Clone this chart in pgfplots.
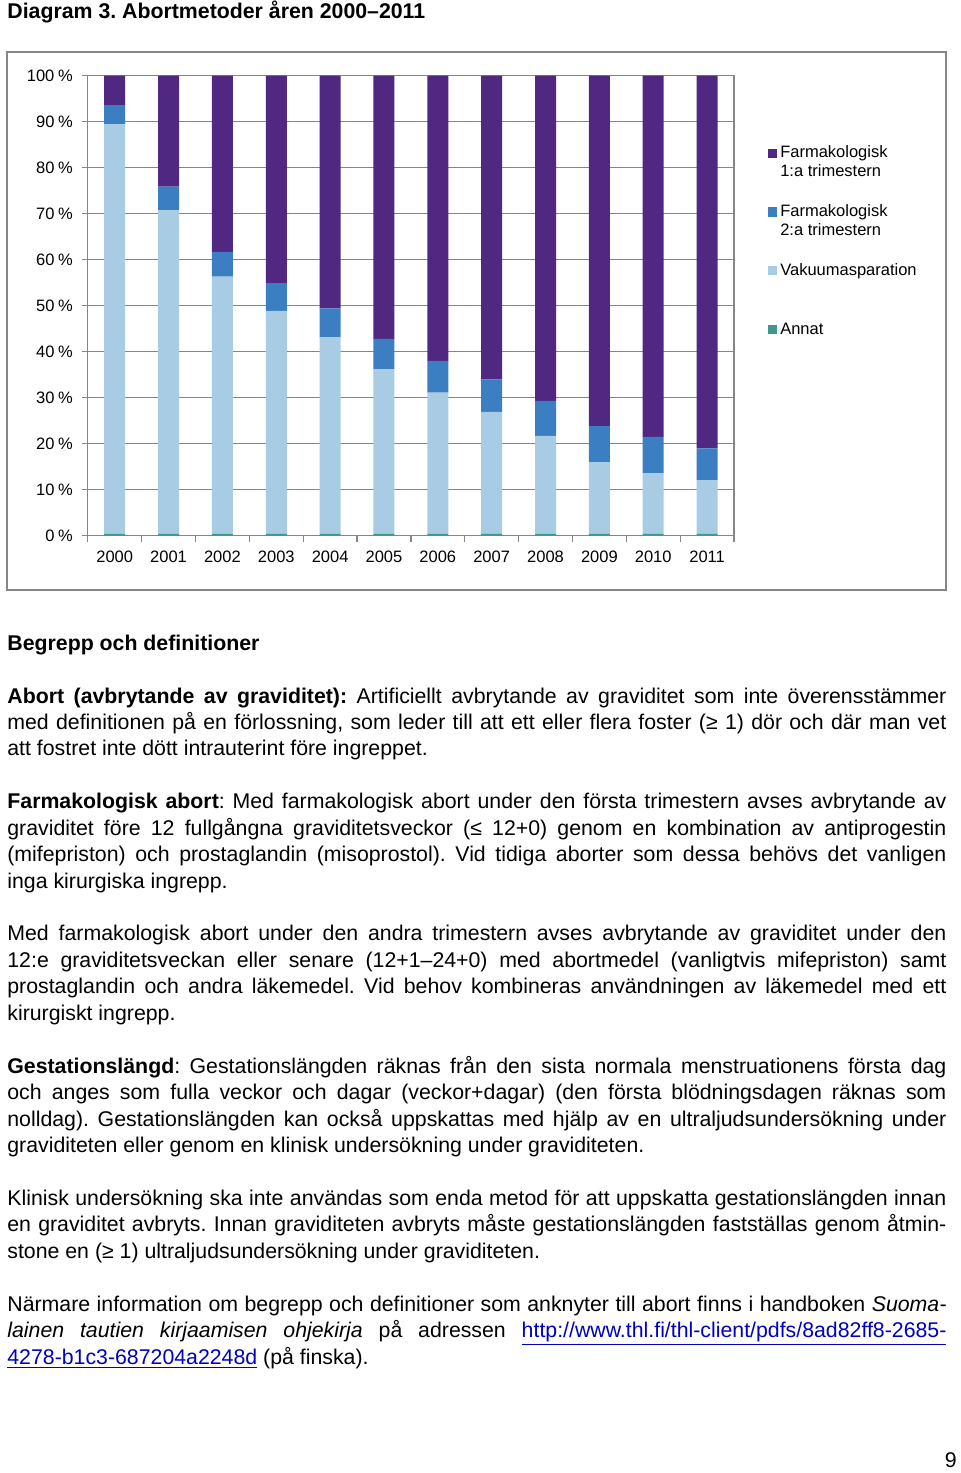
\documentclass[border=0pt]{standalone}
\usepackage{fontspec}
\setmainfont{Liberation Sans}
\usepackage{pgfplots}
\usepackage{pgfplotstable}
\pgfplotsset{compat=1.18}
\frenchspacing

\definecolor{farm1}{RGB}{80,40,130}
\definecolor{farm2}{RGB}{59,126,193}
\definecolor{vakuum}{RGB}{168,204,228}
\definecolor{annat}{RGB}{61,153,139}
\definecolor{gridgray}{RGB}{134,134,134}
\definecolor{linkblue}{RGB}{0,0,192}

\newcommand{\body}{\fontsize{10.65pt}{13.22pt}\selectfont}
\newcommand{\chartfont}{\fontsize{8.25pt}{9.35pt}\selectfont}
% justified line / last line of a paragraph, at baseline #1 (pt from top)
\newcommand{\jline}[2]{\node[anchor=base west,inner sep=0pt] at (3.5pt,-#1pt) {\body\frenchspacing\makebox[469.5pt][s]{#2}};}
\newcommand{\rline}[2]{\node[anchor=base west,inner sep=0pt] at (3.5pt,-#1pt) {\body\frenchspacing #2};}

% abortmetoder, andel i procent
\pgfplotstableread{
x  annat vakuum farm2 farm1
0  0.4   89.1   4.1   6.4
1  0.4   70.4   5.1   24.1
2  0.4   55.9   5.4   38.3
3  0.4   48.5   6.0   45.1
4  0.4   42.7   6.3   50.6
5  0.4   35.8   6.6   57.2
6  0.4   30.7   6.9   62.0
7  0.4   26.5   7.1   66.0
8  0.4   21.3   7.6   70.7
9  0.4   15.6   7.8   76.2
10 0.4   13.2   7.9   78.5
11 0.4   11.7   6.9   81.0
}\metoder

\begin{document}
\begin{tikzpicture}
\path[fill=white] (0pt,0pt) rectangle (480pt,-736.5pt);

\node[anchor=base west,inner sep=0pt] at (3.5pt,-9.2pt) {\body\frenchspacing\bfseries Diagram 3. Abortmetoder åren 2000–2011};

% chart frame
\draw[gridgray,line width=0.75pt] (3.5pt,-26pt) rectangle (473pt,-295pt);

\begin{axis}[
  at={(43.9pt,-37.85pt)}, anchor=north west,
  scale only axis, width=323.1pt, height=230pt,
  ybar stacked, bar width=10.5pt,
  xmin=-0.5, xmax=11.5, ymin=0, ymax=100,
  xtick={0,...,11},
  xticklabels={2000,2001,2002,2003,2004,2005,2006,2007,2008,2009,2010,2011},
  minor xtick={-0.5,0.5,...,11.5},
  ytick={0,10,...,100},
  yticklabel={\pgfmathprintnumber{\tick}\hspace{0.22em}\%},
  /pgf/number format/assume math mode=true,
  tick align=outside, tick pos=left,
  major tick length=3pt, minor tick length=3pt,
  major x tick style={draw=none},
  tick style={gridgray,line width=0.6pt},
  ymajorgrids, grid style={gridgray,line width=0.6pt},
  axis line style={gridgray,line width=0.6pt},
  ticklabel style={font=\chartfont},
  xticklabel style={yshift=-1pt},
  yticklabel style={xshift=-1pt},
  legend image code/.code={\fill[#1] (0pt,0pt) rectangle (4.65pt,4.65pt);},
  reverse legend,
  legend style={at={(1,1)}, anchor=north west, xshift=17pt, yshift=-34.6pt,
    draw=none, fill=none, inner sep=0pt, outer sep=0pt, font=\chartfont,
    row sep={29.35pt,between origins}, column sep=1.5pt,
    cells={anchor=base west}, nodes={inner sep=0pt}},
]
\addplot[fill=annat,draw=none] table[x=x,y=annat] {\metoder};
\addlegendentry{Annat}
\addplot[fill=vakuum,draw=none] table[x=x,y=vakuum] {\metoder};
\addlegendentry{Vakuumasparation}
\addplot[fill=farm2,draw=none] table[x=x,y=farm2] {\metoder};
\addlegendentry{\begin{tabular}[t]{@{}l@{}}Farmakologisk\\2:a trimestern\end{tabular}}
\addplot[fill=farm1,draw=none] table[x=x,y=farm1] {\metoder};
\addlegendentry{\begin{tabular}[t]{@{}l@{}}Farmakologisk\\1:a trimestern\end{tabular}}
\end{axis}

\node[anchor=base west,inner sep=0pt] at (3.5pt,-325.06pt) {\body\bfseries Begrepp och definitioner};

\jline{351.5}{\textbf{Abort (avbrytande av graviditet):} Artificiellt avbrytande av graviditet som inte överensstämmer}
\jline{364.72}{med definitionen på en förlossning, som leder till att ett eller flera foster (≥ 1) dör och där man vet}
\rline{377.94}{att fostret inte dött intrauterint före ingreppet.}

\jline{404.38}{\textbf{Farmakologisk abort}: Med farmakologisk abort under den första trimestern avses avbrytande av}
\jline{417.6}{graviditet före 12 fullgångna graviditetsveckor (≤ 12+0) genom en kombination av antiprogestin}
\jline{430.82}{(mifepriston) och prostaglandin (misoprostol). Vid tidiga aborter som dessa behövs det vanligen}
\rline{444.04}{inga kirurgiska ingrepp.}

\jline{470.48}{Med farmakologisk abort under den andra trimestern avses avbrytande av graviditet under den}
\jline{483.7}{12:e graviditetsveckan eller senare (12+1–24+0) med abortmedel (vanligtvis mifepriston) samt}
\jline{496.92}{prostaglandin och andra läkemedel. Vid behov kombineras användningen av läkemedel med ett}
\rline{510.14}{kirurgiskt ingrepp.}

\jline{536.58}{\textbf{Gestationslängd}: Gestationslängden räknas från den sista normala menstruationens första dag}
\jline{549.8}{och anges som fulla veckor och dagar (veckor+dagar) (den första blödningsdagen räknas som}
\jline{563.02}{nolldag). Gestationslängden kan också uppskattas med hjälp av en ultraljudsundersökning under}
\rline{576.24}{graviditeten eller genom en klinisk undersökning under graviditeten.}

\jline{602.68}{Klinisk undersökning ska inte användas som enda metod för att uppskatta gestationslängden innan}
\jline{615.9}{en graviditet avbryts. Innan graviditeten avbryts måste gestationslängden fastställas genom åtmin-}
\rline{629.12}{stone en (≥ 1) ultraljudsundersökning under graviditeten.}

\jline{655.56}{Närmare information om begrepp och definitioner som anknyter till abort finns i handboken \textit{Suoma-}}
\jline{668.78}{\textit{lainen tautien kirjaamisen ohjekirja} på adressen {\color{linkblue}\underline{http://www.thl.fi/thl-client/pdfs/8ad82ff8-2685-}}}
\rline{682.0}{{\color{linkblue}\underline{4278-b1c3-687204a2248d}} (på finska).}

\node[anchor=base east,inner sep=0pt] at (478.5pt,-733.6pt) {\body 9};
\end{tikzpicture}
\end{document}
